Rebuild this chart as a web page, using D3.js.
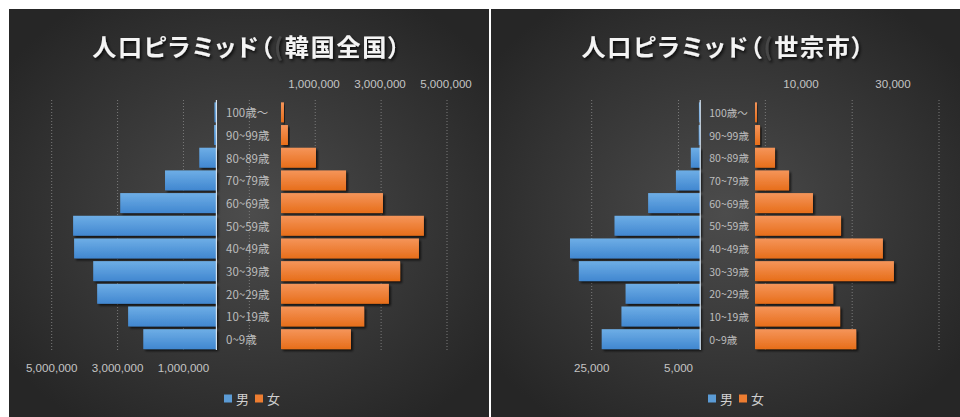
<!DOCTYPE html>
<html><head><meta charset="utf-8">
<script src="https://cdn.jsdelivr.net/npm/d3@7"></script>
<style>
html,body{margin:0;padding:0;background:#fff;}
svg{display:block;}
text{font-family:"Noto Sans CJK JP","Liberation Sans",sans-serif;}
.num{font-family:"Liberation Sans","Noto Sans CJK JP",sans-serif;}
</style></head><body>
<svg id="chart" width="960" height="417"></svg>
<script>
// Age groups, top to bottom
const ageGroups = ["100歳～","90~99歳","80~89歳","70~79歳","60~69歳","50~59歳","40~49歳","30~39歳","20~29歳","10~19歳","0~9歳"];

// Korea (nationwide) population by age group
const koreaMale   = [60000, 70000, 520000, 1560000, 2920000, 4350000, 4320000, 3740000, 3620000, 2680000, 2220000];
const koreaFemale = [90000, 210000, 1060000, 1970000, 3090000, 4330000, 4180000, 3610000, 3270000, 2520000, 2120000];

// Sejong City population by age group
const sejongMale   = [300, 350, 2170, 5600, 12000, 19750, 30000, 27970, 17200, 18150, 22700];
const sejongFemale = [430, 1090, 4350, 7400, 12600, 18700, 27800, 30200, 17000, 18500, 22000];

// Axis ticks
const koreaMaleTicks   = [5000000, 3000000, 1000000];
const koreaMaleGrid    = [5000000, 3000000, 1000000, -1000000, -3000000, -5000000, -7000000];
const koreaFemaleTicks = [1000000, 3000000, 5000000];
const sejongMaleTicks   = [25000, 5000];
const sejongMaleGrid    = [25000, 5000, -15000, -35000, -55000];
const sejongFemaleTicks = [10000, 30000];

const titles = ["人口ピラミッド（", "人口ピラミッド（"];
const titleRegions = ["韓国全国）", "世宗市）"];
const legendLabels = ["男", "女"];

const svg = d3.select("#chart");
const defs = svg.append("defs");
const fmt = d3.format(",");

// panel background: dark radial glow
const bg = defs.append("radialGradient").attr("id", "bgGrad")
  .attr("cx", "50%").attr("cy", "50%").attr("r", "62%");
bg.append("stop").attr("offset", "0%").attr("stop-color", "#4c4c4c");
bg.append("stop").attr("offset", "100%").attr("stop-color", "#262626");

function barGrad(id, top, bottom) {
  const g = defs.append("linearGradient").attr("id", id)
    .attr("x1", 0).attr("y1", 0).attr("x2", 0).attr("y2", 1);
  g.append("stop").attr("offset", "0%").attr("stop-color", top);
  g.append("stop").attr("offset", "100%").attr("stop-color", bottom);
}
barGrad("maleGrad", "#6eaee6", "#4187d0");
barGrad("femaleGrad", "#f5955a", "#e76e1a");

const shadow = defs.append("filter").attr("id", "barShadow")
  .attr("x", "-10%").attr("y", "-30%").attr("width", "130%").attr("height", "170%");
shadow.append("feDropShadow").attr("dx", 2).attr("dy", 2).attr("stdDeviation", 1.3)
  .attr("flood-color", "#000").attr("flood-opacity", 0.65);

const tshadow = defs.append("filter").attr("id", "titleShadow")
  .attr("x", "-5%").attr("y", "-30%").attr("width", "110%").attr("height", "170%");
tshadow.append("feDropShadow").attr("dx", 1.5).attr("dy", 2).attr("stdDeviation", 1.5)
  .attr("flood-color", "#000").attr("flood-opacity", 0.8);

const panels = [
  {
    x0: 9, x1: 489, title: titles[0], region: titleRegions[0],
    male: koreaMale, female: koreaFemale,
    maleX: d3.scaleLinear().domain([5000000, -7000000]).range([51.7, 447]),
    femaleX: d3.scaleLinear().domain([0, 5000000]).range([281, 446]),
    maleTicks: koreaMaleTicks, maleGrid: koreaMaleGrid, femaleTicks: koreaFemaleTicks,
    labelX: 226, labelSize: 11.5, legendC: 251
  },
  {
    x0: 491, x1: 960, title: titles[1], region: titleRegions[1],
    male: sejongMale, female: sejongFemale,
    maleX: d3.scaleLinear().domain([25000, -55000]).range([591.7, 939]),
    femaleX: d3.scaleLinear().domain([0, 30000]).range([755, 893]),
    maleTicks: sejongMaleTicks, maleGrid: sejongMaleGrid, femaleTicks: sejongFemaleTicks,
    labelX: 709.3, labelSize: 10.5, legendC: 735
  }
];

const y = d3.scaleBand().domain(ageGroups).range([101, 350.5])
  .paddingInner(0.12).paddingOuter(0.06);
const gridTop = 100, gridBottom = 350;

panels.forEach(p => {
  const g = svg.append("g");
  g.append("rect").attr("x", p.x0).attr("y", 9)
    .attr("width", p.x1 - p.x0).attr("height", 408).attr("fill", "url(#bgGrad)");

  // title
  const cx = (p.x0 + p.x1) / 2 - 2;
  const t = g.append("text").attr("x", cx).attr("y", 45)
    .attr("text-anchor", "middle").attr("dominant-baseline", "central")
    .attr("font-size", 24).attr("font-weight", "bold")
    .attr("letter-spacing", 1.8)
    .style("font-feature-settings", "'palt'");
  t.append("tspan").attr("fill", "#f4f4f4").attr("filter", "url(#titleShadow)").text(p.title);
  t.append("tspan").attr("fill", "#474747").attr("filter", "url(#titleShadow)").text("(");
  t.append("tspan").attr("fill", "#f4f4f4").attr("filter", "url(#titleShadow)").text(p.region);

  // dotted gridlines from the male value axis
  g.selectAll(".grid").data(p.maleGrid).join("line")
    .attr("x1", d => p.maleX(d)).attr("x2", d => p.maleX(d))
    .attr("y1", gridTop).attr("y2", gridBottom)
    .attr("stroke", "#7a7a7a").attr("stroke-width", 1)
    .attr("stroke-dasharray", "1,2");

  // male bars (extend left from zero)
  g.selectAll(".m").data(p.male).join("rect")
    .attr("x", d => p.maleX(d))
    .attr("y", (d, i) => y(ageGroups[i]))
    .attr("width", d => p.maleX(0) - p.maleX(d))
    .attr("height", y.bandwidth())
    .attr("fill", "url(#maleGrad)")
    .attr("filter", "url(#barShadow)");

  // female bars (extend right from zero)
  g.selectAll(".f").data(p.female).join("rect")
    .attr("x", p.femaleX(0))
    .attr("y", (d, i) => y(ageGroups[i]))
    .attr("width", d => p.femaleX(d) - p.femaleX(0))
    .attr("height", y.bandwidth())
    .attr("fill", "url(#femaleGrad)")
    .attr("filter", "url(#barShadow)");

  // male category axis line
  g.append("line")
    .attr("x1", p.maleX(0)).attr("x2", p.maleX(0))
    .attr("y1", gridTop).attr("y2", gridBottom)
    .attr("stroke", "#d6e2ee").attr("stroke-width", 1.2);

  // category labels
  g.selectAll(".lab").data(ageGroups).join("text")
    .attr("x", p.labelX)
    .attr("y", d => y(d) + y.bandwidth() / 2)
    .attr("dominant-baseline", "central")
    .attr("font-size", p.labelSize)
    .attr("fill", "#bdbdbd")
    .text(d => d);

  // female value axis labels (top)
  g.selectAll(".ft").data(p.femaleTicks).join("text")
    .attr("class", "num")
    .attr("x", d => p.femaleX(d)).attr("y", 83)
    .attr("text-anchor", "middle").attr("dominant-baseline", "central")
    .attr("font-size", 11.6).attr("fill", "#c4c4c4")
    .text(d => fmt(d));

  // male value axis labels (bottom)
  g.selectAll(".mt").data(p.maleTicks).join("text")
    .attr("class", "num")
    .attr("x", d => p.maleX(d)).attr("y", 367)
    .attr("text-anchor", "middle").attr("dominant-baseline", "central")
    .attr("font-size", 11.6).attr("fill", "#c4c4c4")
    .text(d => fmt(d));

  // legend
  const lc = p.legendC;
  const legendItems = [
    {label: legendLabels[0], color: "#5b9bd5", x: lc - 27},
    {label: legendLabels[1], color: "#ed7d31", x: lc + 4}
  ];
  legendItems.forEach(it => {
    g.append("rect").attr("x", it.x).attr("y", 394.5).attr("width", 8).attr("height", 8)
      .attr("fill", it.color);
    g.append("text").attr("x", it.x + 12).attr("y", 398.5)
      .attr("dominant-baseline", "central").attr("font-size", 13)
      .attr("fill", "#d0d0d0").text(it.label);
  });
});
</script>
</body></html>
